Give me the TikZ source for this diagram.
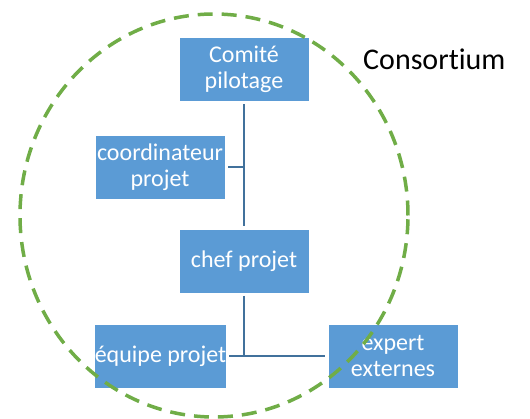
\documentclass[tikz,border=0pt]{standalone}
\usepackage{fontspec}
\setmainfont{Carlito}[Ligatures=NoCommon]
\definecolor{boxblue}{HTML}{5B9BD5}
\definecolor{linkblue}{HTML}{41719C}
\definecolor{ringgreen}{HTML}{70AD47}
\tikzset{
	orgbox/.style={fill=boxblue, draw=white, line width=0.8pt, text=white,
		minimum width=130pt, minimum height=64pt, inner sep=0pt, outer sep=3pt,
		align=center, font=\fontsize{24}{26.5}\selectfont},
	link/.style={draw=linkblue, line width=2.2pt},
	ring/.style={draw=ringgreen, line width=3.5pt, dash pattern=on 15pt off 9pt}
}

\begin{document}
\begin{tikzpicture}[x=1pt, y=-1pt]
		%%%%% START %%%%%
		\useasboundingbox (0, 0) rectangle (530, 419);
		
		\node[orgbox] (comite) at (244, 69.5) {Comité\\pilotage};
		\node[orgbox] (coord) at (160, 167) {coordinateur\\projet};
		\node[orgbox] (chef) at (244, 261) {chef projet};
		\node[orgbox] (equipe) at (160.5, 356) {équipe projet};
		\node[orgbox] (expert) at (393, 356) {expert\\externes};
		
		\draw[link] (comite.south) -- (chef.north);
		\draw[link] (coord.east) -- (coord.east -| comite.south);
		\draw[link] (chef.south) -- (chef.south |- equipe.east);
		\draw[link] (equipe.east) -- (expert.west);
		
		\draw[ring] (214, 215.5) ellipse [x radius=194pt, y radius=201.5pt];
		
		\node[anchor=base west, font=\fontsize{30}{34}\selectfont, inner sep=0pt] (consortium) at (363, 70) {Consortium};
		
		%%%%% END %%%%%
	\end{tikzpicture}
\end{document}
